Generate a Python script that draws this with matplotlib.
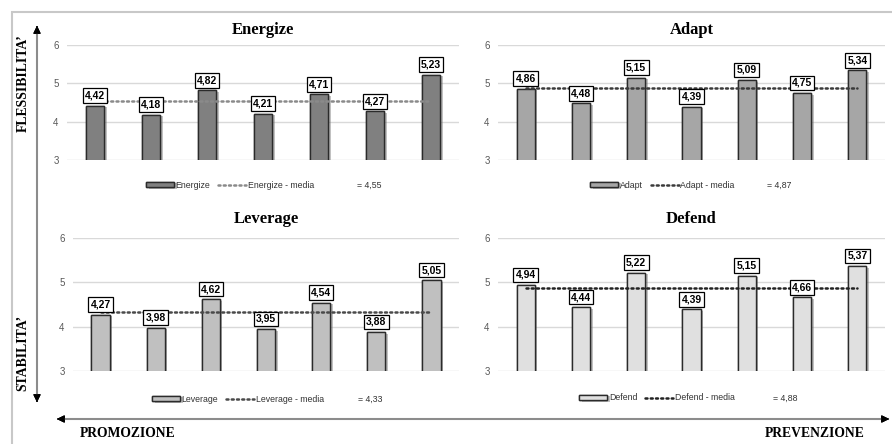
import numpy as np
import matplotlib
matplotlib.use('Agg')
import matplotlib.pyplot as plt
import matplotlib.patheffects as pe
from matplotlib.patches import Rectangle
from matplotlib.lines import Line2D

W, H = 892, 444

# data
n_groups = 7
energize = [4.42, 4.18, 4.82, 4.21, 4.71, 4.27, 5.23]
adapt = [4.86, 4.48, 5.15, 4.39, 5.09, 4.75, 5.34]
leverage = [4.27, 3.98, 4.62, 3.95, 4.54, 3.88, 5.05]
defend = [4.94, 4.44, 5.22, 4.39, 5.15, 4.66, 5.37]
means = {'Energize': 4.55, 'Adapt': 4.87, 'Leverage': 4.33, 'Defend': 4.88}
yticks = [3, 4, 5, 6]

serif = 'Liberation Serif'
sans = 'Liberation Sans'


def px_axes(fig, x0, x1, ytop, ybot):
    return fig.add_axes([x0 / W, 1 - ybot / H, (x1 - x0) / W, (ybot - ytop) / H])


def fmt(v):
    return ('%.2f' % v).replace('.', ',')


def panel(fig, box, name, values, bar_color, line_color, title_y, leg_x, leg_y, eq_x):
    ax = px_axes(fig, *box)
    x = np.arange(len(values))
    bars = ax.bar(x, values, width=0.33, bottom=0, color=bar_color, edgecolor='#2b2b2b',
                  linewidth=1.0, zorder=2, label=name)
    for b in bars:
        b.set_path_effects([pe.withSimplePatchShadow(offset=(1.8, -1.2), shadow_rgbFace='#777777', alpha=0.45),
                            pe.Normal()])
    m = means[name]
    line, = ax.plot([x[0], x[-1]], [m, m], color=line_color, lw=1.8,
                    linestyle=(0, (0.8, 1.3)), dash_capstyle='round', zorder=3,
                    label=name + ' - media')
    for xi, v in zip(x, values):
        ax.annotate(fmt(v), (xi, v), xytext=(0, 3.6), textcoords='offset points',
                    ha='center', va='bottom', fontsize=7.5, fontweight='bold', family=sans,
                    bbox=dict(boxstyle='square,pad=0.22', fc='white', ec='black', lw=0.9),
                    zorder=5)
    ax.set_xlim(-0.5, len(values) - 0.5)
    ax.set_ylim(3, 6)
    ax.set_yticks(yticks)
    ax.set_xticks([])
    ax.grid(axis='y', color='#d9d9d9', lw=1.0, zorder=0)
    ax.set_axisbelow(True)
    for s in ax.spines.values():
        s.set_visible(False)
    ax.tick_params(axis='y', length=0, pad=6, labelsize=7, labelcolor='#595959')
    for t in ax.get_yticklabels():
        t.set_family(sans)
    ax.patch.set_alpha(0)

    cx = (box[0] + box[1]) / 2
    fig.text(cx / W, 1 - title_y / H, name, ha='center', va='center',
             family=serif, fontweight='bold', fontsize=12)

    leg = ax.legend(handles=[bars, line], loc='center left', ncol=2, frameon=False,
                    bbox_to_anchor=(leg_x / W, 1 - leg_y / H), bbox_transform=fig.transFigure,
                    borderpad=0, borderaxespad=0, handlelength=3.2, handleheight=0.55,
                    handletextpad=0.2, columnspacing=0.9, prop={'family': sans, 'size': 6.3})
    for t in leg.get_texts():
        t.set_color('#333333')
    fig.text(eq_x / W, 1 - leg_y / H, '= ' + fmt(m), ha='left', va='center',
             family=sans, fontsize=6.3, color='#333333')
    return ax


fig = plt.figure(figsize=(W / 100, H / 100), dpi=100)
fig.patch.set_facecolor('white')

# outer light frame
fig.add_artist(Rectangle((12 / W, -0.01), 1.0, 1 - 12 / H + 0.01, transform=fig.transFigure,
                         fill=False, ec='#c8c8c8', lw=1.5))

panel(fig, (67, 459, 45, 160), 'Energize', energize, '#808080', '#8a8a8a', 30, 146, 185, 357)
panel(fig, (498, 885, 45, 160), 'Adapt', adapt, '#a6a6a6', '#3a3a3a', 30, 590, 185, 767)
panel(fig, (73, 459, 238, 371), 'Leverage', leverage, '#c0c0c0', '#4a4a4a', 219, 152, 399, 358)
panel(fig, (498, 885, 238, 371), 'Defend', defend, '#e0e0e0', '#222222', 219, 579, 398, 773)

# quadrant arrows
def fpt(x, y):
    return (x / W, 1 - y / H)

fig.add_artist(Line2D([37 / W, 37 / W], [1 - 28 / H, 1 - 400 / H], color='#8c8c8c', lw=1.5,
                      transform=fig.transFigure))
fig.add_artist(Line2D([60 / W, 888 / W], [1 - 419 / H, 1 - 419 / H], color='#8c8c8c', lw=1.5,
                      transform=fig.transFigure))
head = dict(arrowstyle='-|>,head_length=0.45,head_width=0.22', color='black', lw=0.8)
fig.add_artist(plt.annotate('', xy=fpt(37, 23), xytext=fpt(37, 30), xycoords='figure fraction',
                            textcoords='figure fraction', arrowprops=head))
fig.add_artist(plt.annotate('', xy=fpt(37, 405), xytext=fpt(37, 398), xycoords='figure fraction',
                            textcoords='figure fraction', arrowprops=head))
fig.add_artist(plt.annotate('', xy=fpt(54, 419), xytext=fpt(62, 419), xycoords='figure fraction',
                            textcoords='figure fraction', arrowprops=head))
fig.add_artist(plt.annotate('', xy=fpt(892, 419), xytext=fpt(884, 419), xycoords='figure fraction',
                            textcoords='figure fraction', arrowprops=head))

fig.text(23 / W, 1 - 83 / H, 'FLESSIBILITA\u2019', rotation=90, ha='center', va='center',
         family=serif, fontweight='bold', fontsize=9.8)
fig.text(23 / W, 1 - 353 / H, 'STABILITA\u2019', rotation=90, ha='center', va='center',
         family=serif, fontweight='bold', fontsize=9.8)
fig.text(80 / W, 1 - 433 / H, 'PROMOZIONE', ha='left', va='center',
         family=serif, fontweight='bold', fontsize=9.8)
fig.text(865 / W, 1 - 433 / H, 'PREVENZIONE', ha='right', va='center',
         family=serif, fontweight='bold', fontsize=9.8)

fig.savefig('out.png', dpi=100, facecolor='white')
